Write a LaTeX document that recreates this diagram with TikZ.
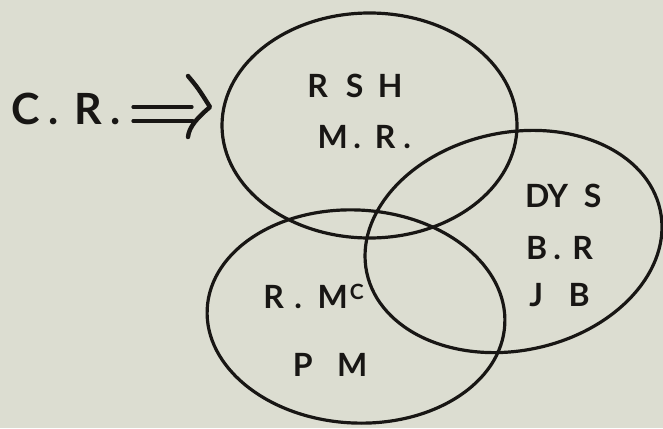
\documentclass[tikz,border=0pt]{standalone}
\usepackage{fontspec}
\setmainfont{Lato}
\newfontfamily\lblfont{Lato}
\newcommand{\glyphc}[1]{\makebox[0pt][c]{#1}}
\usetikzlibrary{shapes.geometric}
\definecolor{paper}{RGB}{220,221,209}
\definecolor{ink}{RGB}{24,22,20}
\begin{document}
\begin{tikzpicture}[x=1pt,y=-1pt,
  ring/.style={draw=ink, line width=3.2pt, ellipse, inner sep=0pt},
  lbl/.style={text=ink, inner sep=0pt, anchor=base west, font=\lblfont\bfseries\fontsize{32}{34}\selectfont},
  biglbl/.style={text=ink, inner sep=0pt, anchor=base west, font=\lblfont\bfseries\fontsize{43}{45}\selectfont},
  stroke/.style={draw=ink, line width=3.2pt, line cap=round},
  headstroke/.style={draw=ink, line width=4.4pt, line cap=round, line join=round}]
\fill[paper] (0,0) rectangle (663,428);
\useasboundingbox (0,0) rectangle (663,428);
% circles
\node[ring, minimum width=295pt, minimum height=225pt] (topset) at (369.5,125.5) {};
\node[ring, minimum width=300pt, minimum height=218pt, rotate=12] (rightset) at (513.5,241.5) {};
\node[ring, minimum width=298pt, minimum height=213pt, rotate=-3] (bottomset) at (356,316.5) {};
% labels (each glyph centred at its measured position)
\node[lbl] (rsh) at (317.5,97) {\glyphc{R}\hspace{37pt}\glyphc{S}\hspace{35.5pt}\glyphc{H}};
\node[lbl] (mr) at (332.5,148) {\glyphc{M}\hspace{24.5pt}\glyphc{.}\hspace{28pt}\glyphc{R}\hspace{22pt}\glyphc{.}};
\node[lbl] (dys) at (537,207) {\glyphc{D}\hspace{20.5pt}\glyphc{Y}\hspace{35pt}\glyphc{S}};
\node[lbl] (br) at (536.5,259) {\glyphc{B}\hspace{20.5pt}\glyphc{.}\hspace{25.5pt}\glyphc{R}};
\node[lbl] (jb) at (536,306) {\glyphc{J}\hspace{43pt}\glyphc{B}};
\node[lbl] (rmc) at (273.5,308) {\glyphc{R}\hspace{24.5pt}\glyphc{.}\hspace{34.5pt}\glyphc{M}\hspace{24pt}\glyphc{\raisebox{9pt}{\fontsize{21}{21}\selectfont C}}};
\node[lbl] (pm) at (302.5,376) {\glyphc{P}\hspace{49.5pt}\glyphc{M}};
\node[biglbl] (cr) at (26,124) {\glyphc{C}\hspace{27pt}\glyphc{.}\hspace{35pt}\glyphc{R}\hspace{27pt}\glyphc{.}};
% arrow
\coordinate (l1a) at (133,107);
\coordinate (l1b) at (192,107);
\coordinate (l2a) at (133,121);
\coordinate (l2b) at (193,121);
\coordinate (hTop) at (188,76);
\coordinate (hTip) at (210,107);
\coordinate (hBot) at (188,137);
\draw[stroke] (l1a) -- (l1b);
\draw[stroke] (l2a) -- (l2b);
\draw[headstroke] (hTop) .. controls (198,88) .. (hTip) .. controls (197,118) and (189,127) .. (hBot);
\end{tikzpicture}
\end{document}
